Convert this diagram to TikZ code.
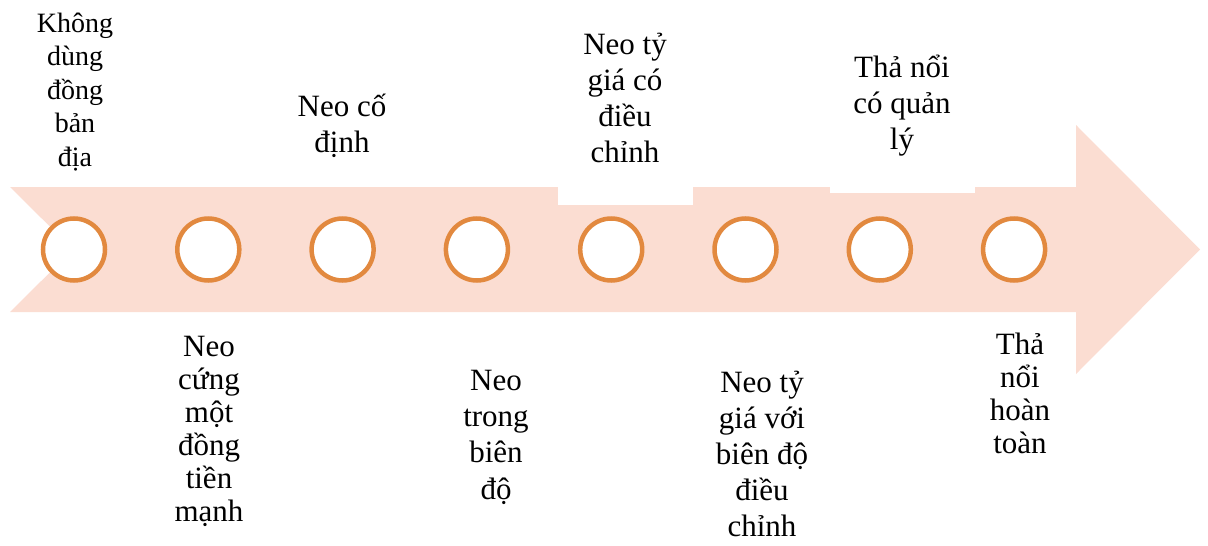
\documentclass[tikz,border=0pt]{standalone}
\usepackage{fontspec}
\setmainfont{Liberation Serif}
\definecolor{arrowfill}{HTML}{FBDDD2}
\definecolor{ringorange}{HTML}{E2893F}
\newcommand{\tstrut}{\rule{0pt}{34pt}}
\begin{document}
\begin{tikzpicture}[x=1pt,y=-1pt,
  ring/.style={circle,draw=ringorange,line width=4.5pt,fill=white,minimum size=62pt,inner sep=0pt},
  lbl/.style={anchor=north,inner sep=0pt,align=center},
  patch/.style={fill=white,draw=none}]
\useasboundingbox (0,0) rectangle (1208,546);
% arrow
\fill[arrowfill] (10,187) -- (1076,187) -- (1076,125) -- (1200,249.5) -- (1076,374) -- (1076,312) -- (10,312) -- (73,249.5) -- cycle;
% white text-box patches
\fill[patch] (558,150) rectangle (693,205);
\fill[patch] (830,150) rectangle (975,193);
% rings
\foreach \i in {0,...,7}{
  \node[ring] (c\i) at ({74+134.3*\i},249.5) {};
}
% labels
\node[lbl,font=\fontsize{28}{33.5}\selectfont] (t1) at (75,{32-34}) {\tstrut Không\\dùng\\đồng\\bản\\địa};
\node[lbl,font=\fontsize{31}{36}\selectfont] (t3) at (342,{116-34}) {\tstrut Neo cố\\định};
\node[lbl,font=\fontsize{31}{36}\selectfont] (t5) at (625,{54-34}) {\tstrut Neo tỷ\\giá có\\điều\\chỉnh};
\node[lbl,font=\fontsize{31}{36}\selectfont] (t7) at (902,{77-34}) {\tstrut Thả nổi\\có quản\\lý};
\node[lbl,font=\fontsize{31}{33}\selectfont] (t2) at (209,{356-34}) {\tstrut Neo\\cứng\\một\\đồng\\tiền\\mạnh};
\node[lbl,font=\fontsize{31}{36.3}\selectfont] (t4) at (496,{390-34}) {\tstrut Neo\\trong\\biên\\độ};
\node[lbl,font=\fontsize{31}{36}\selectfont] (t6) at (762,{392-34}) {\tstrut Neo tỷ\\giá với\\biên độ\\điều\\chỉnh};
\node[lbl,font=\fontsize{31}{33}\selectfont] (t8) at (1020,{354-34}) {\tstrut Thả\\nổi\\hoàn\\toàn};
\end{tikzpicture}
\end{document}
